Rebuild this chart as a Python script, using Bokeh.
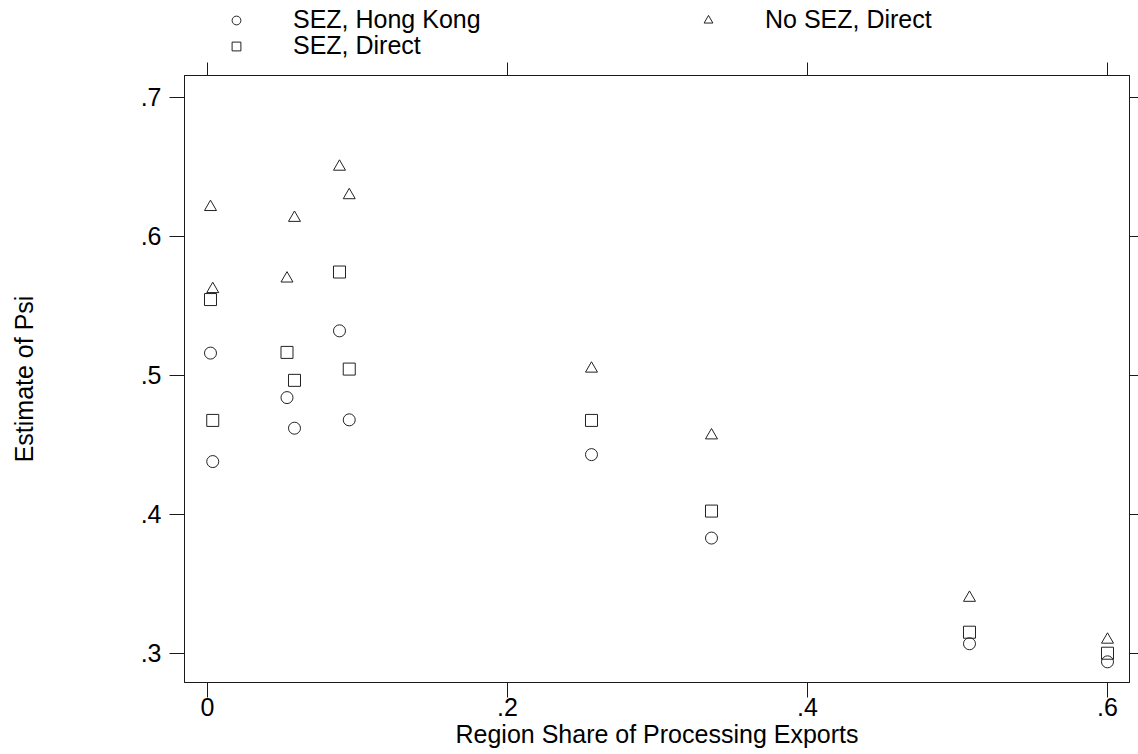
from bokeh.plotting import figure
from bokeh.layouts import column
from bokeh.models import Range1d, FixedTicker, LinearAxis, Legend, LegendItem
from bokeh.embed import file_html
from bokeh.resources import INLINE

# ---- data ----
region_share = [0.002, 0.0035, 0.053, 0.058, 0.088, 0.0945, 0.256, 0.336, 0.508, 0.600]
psi_sez_hong_kong = [0.516, 0.438, 0.484, 0.462, 0.532, 0.468, 0.443, 0.383, 0.307, 0.294]
psi_sez_direct = [0.5545, 0.4676, 0.5165, 0.4964, 0.5743, 0.5045, 0.4676, 0.4024, 0.3153, 0.3002]
psi_nosez_direct = [0.621, 0.562, 0.5696, 0.6132, 0.650, 0.6295, 0.5048, 0.4568, 0.340, 0.3099]

series_names = ["SEZ, Hong Kong", "SEZ, Direct", "No SEZ, Direct"]
x_ticks = [0, 0.2, 0.4, 0.6]
x_tick_labels = ["0", ".2", ".4", ".6"]
y_ticks = [0.3, 0.4, 0.5, 0.6, 0.7]
y_tick_labels = [".3", ".4", ".5", ".6", ".7"]
x_title = "Region Share of Processing Exports"
y_title = "Estimate of Psi"

FONT = "Liberation Sans"
FS = "25px"
INK = "#1a1a1a"
LEG_H = 60

# ---------------- main plot ----------------
p = figure(width=1138, height=754 - LEG_H, output_backend="svg", toolbar_location=None,
           x_range=Range1d(-0.01533, 0.61467), y_range=Range1d(0.27914, 0.71561),
           min_border_left=184, min_border_right=9, min_border_top=75 - LEG_H,
           min_border_bottom=72, x_axis_label=x_title, y_axis_label=y_title)
p.grid.visible = False
p.outline_line_color = INK
p.outline_line_width = 1
p.background_fill_color = "white"
p.border_fill_color = "white"

def style_axis(ax):
    ax.axis_line_color = INK
    ax.major_tick_line_color = INK
    ax.minor_tick_line_color = None
    ax.major_tick_in = 0
    ax.major_label_text_font = FONT
    ax.major_label_text_font_size = FS
    ax.major_label_text_color = "black"
    ax.axis_label_text_font = FONT
    ax.axis_label_text_font_size = FS
    ax.axis_label_text_font_style = "normal"
    ax.axis_label_text_color = "black"

xa = p.xaxis[0]
style_axis(xa)
xa.ticker = FixedTicker(ticks=x_ticks)
xa.major_label_overrides = dict(zip(x_ticks, x_tick_labels))
xa.major_tick_out = 15
xa.major_label_standoff = 0
xa.axis_label_standoff = 1

ya = p.yaxis[0]
style_axis(ya)
ya.ticker = FixedTicker(ticks=y_ticks)
ya.major_label_overrides = dict(zip(y_ticks, y_tick_labels))
ya.major_tick_out = 15
ya.major_label_standoff = 8
ya.axis_label_standoff = 100

top = LinearAxis(ticker=FixedTicker(ticks=x_ticks))
style_axis(top)
top.major_tick_out = 13
top.major_label_standoff = 0
top.major_label_text_font_size = "0px"
top.major_label_overrides = {t: "" for t in x_ticks}
p.add_layout(top, "above")

right = LinearAxis(ticker=FixedTicker(ticks=y_ticks))
style_axis(right)
right.major_tick_out = 9
right.major_label_standoff = 0
right.major_label_text_font_size = "0px"
right.major_label_overrides = {t: "" for t in y_ticks}
p.add_layout(right, "right")

mk = dict(size=12, fill_color=None, line_color="#222222", line_width=1)
p.scatter(region_share, psi_sez_hong_kong, marker="circle", **mk)
p.scatter(region_share, psi_sez_direct, marker="square", **mk)
p.scatter(region_share, psi_nosez_direct, marker="triangle", **mk)

# ---------------- legend strip (Stata-style legend above the plot) ----------------
# The strip's own ranges lie outside the data, so its copies of the series stay hidden
# and only serve as legend keys.
pl = figure(width=1138, height=LEG_H, output_backend="svg", toolbar_location=None,
            x_axis_type=None, y_axis_type=None, x_range=Range1d(5, 6), y_range=Range1d(5, 6),
            min_border=0, min_border_left=0, min_border_right=0, min_border_top=0,
            min_border_bottom=0)
pl.grid.visible = False
pl.outline_line_color = None
pl.background_fill_color = "white"
pl.border_fill_color = "white"

lk_hk = pl.scatter(region_share, psi_sez_hong_kong, marker="circle", **mk)
lk_dir = pl.scatter(region_share, psi_sez_direct, marker="square", **mk)
lk_no = pl.scatter(region_share, psi_nosez_direct, marker="triangle", **mk)

leg_style = dict(glyph_width=22, glyph_height=22, label_standoff=46, label_width=404,
                 spacing=0, padding=0, margin=0, border_line_color=None,
                 background_fill_alpha=0, label_text_font=FONT, label_text_font_size=FS,
                 label_text_color="black", label_height=22, orientation="horizontal")

leg_a = Legend(items=[LegendItem(label=series_names[0], renderers=[lk_hk]),
                      LegendItem(label=series_names[2], renderers=[lk_no])],
               location=(41, 26), **leg_style)
leg_b = Legend(items=[LegendItem(label=series_names[1], renderers=[lk_dir])],
               location=(41, 0), **leg_style)
pl.add_layout(leg_a)
pl.add_layout(leg_b)

layout = column(pl, p, spacing=0)

open("out.html", "w").write(file_html(layout, INLINE))
